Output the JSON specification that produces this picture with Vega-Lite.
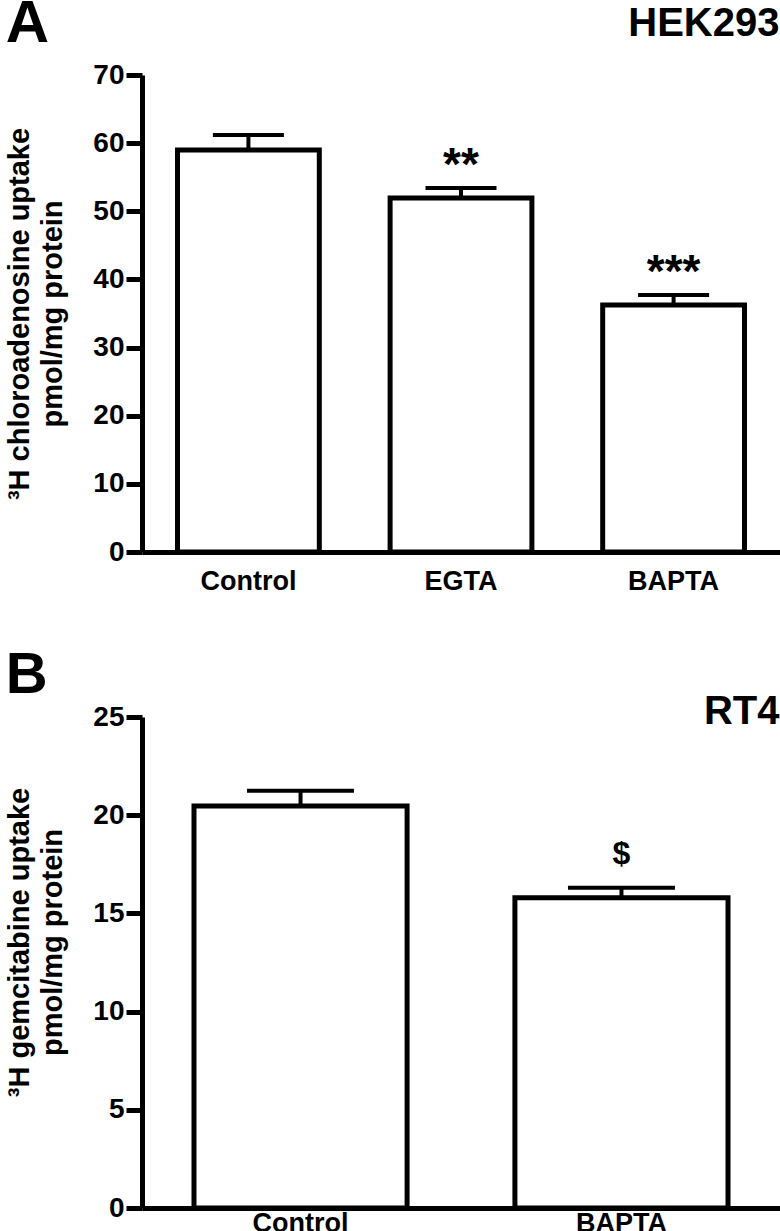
{
  "$schema": "https://vega.github.io/schema/vega-lite/v6.json",
  "padding": {"left": 5, "top": -6, "right": 0, "bottom": 0},
  "background": "white",
  "config": {
    "view": {"stroke": null},
    "font": "Liberation Sans",
    "axis": {"labelFont": "Liberation Sans", "labelFontWeight": "bold", "labelColor": "black", "domainColor": "black", "tickColor": "black", "titleColor": "black", "titleFont": "Liberation Sans", "titleFontWeight": "bold", "grid": false},
    "text": {"font": "Liberation Sans", "fontWeight": "bold", "color": "black"},
    "title": {"font": "Liberation Sans", "fontWeight": "bold", "color": "black"}
  },
  "datasets": {
    "a": [
      {"cat": "Control", "value": 59.0, "upper": 61.2, "label": ""},
      {"cat": "EGTA", "value": 51.95, "upper": 53.4, "label": "**"},
      {"cat": "BAPTA", "value": 36.25, "upper": 37.7, "label": "***"}
    ],
    "b": [
      {"cat": "Control", "value": 20.47, "upper": 21.25, "label": ""},
      {"cat": "BAPTA", "value": 15.8, "upper": 16.3, "label": "$"}
    ]
  },
  "spacing": 165,
  "bounds": "flush",
  "vconcat": [
    {
      "width": 638,
      "height": 477,
      "data": {"name": "a"},
      "title": {"text": "A", "anchor": "start", "frame": "bounds", "fontSize": 60, "offset": -52},
      "resolve": {"axis": {"x": "independent"}},
      "layer": [
        {
          "mark": {"type": "bar", "fill": "white", "stroke": "black", "strokeWidth": 5},
          "encoding": {
            "x": {"field": "cat", "type": "nominal", "sort": ["Control", "EGTA", "BAPTA"],
              "scale": {"paddingInner": 0.333, "paddingOuter": 0.167},
              "axis": {"orient": "bottom", "title": null, "labelAngle": 0, "labelFontSize": 27, "labelPadding": 16, "ticks": false, "domainWidth": 5}},
            "y": {"field": "value", "type": "quantitative", "scale": {"domain": [0, 70], "nice": false},
              "axis": {"values": [0, 10, 20, 30, 40, 50, 60, 70], "title": ["³H chloroadenosine uptake", "pmol/mg protein"], "titleFontSize": 29, "titleLineHeight": 33, "titlePadding": 25, "labelFontSize": 28, "tickSize": 16, "tickWidth": 5, "domainWidth": 5, "labelPadding": 2}}
          }
        },
        {
          "mark": {"type": "rule", "strokeWidth": 4, "color": "black"},
          "encoding": {
            "x": {"field": "cat", "type": "nominal", "sort": ["Control", "EGTA", "BAPTA"], "axis": null},
            "y": {"field": "value", "type": "quantitative"},
            "y2": {"field": "upper"}
          }
        },
        {
          "mark": {"type": "tick", "orient": "horizontal", "size": 71, "thickness": 4, "color": "black", "opacity": 1},
          "encoding": {
            "x": {"field": "cat", "type": "nominal", "sort": ["Control", "EGTA", "BAPTA"], "axis": null},
            "y": {"field": "upper", "type": "quantitative"}
          }
        },
        {
          "transform": [{"filter": "datum.label != ''"}],
          "mark": {"type": "text", "fontSize": 46, "dy": -8, "baseline": "alphabetic"},
          "encoding": {
            "x": {"field": "cat", "type": "nominal", "sort": ["Control", "EGTA", "BAPTA"],
              "axis": {"orient": "top", "title": "HEK293", "labels": false, "ticks": false, "domain": false, "titleFontSize": 40, "titleX": 637, "titleY": -40, "titleAlign": "right", "titleAnchor": null, "titleBaseline": "alphabetic"}},
            "y": {"field": "upper", "type": "quantitative"},
            "text": {"field": "label"}
          }
        }
      ]
    },
    {
      "width": 638,
      "height": 491,
      "data": {"name": "b"},
      "title": {"text": "B", "anchor": "start", "frame": "bounds", "fontSize": 58, "offset": -14},
      "resolve": {"axis": {"x": "independent"}},
      "layer": [
        {
          "mark": {"type": "bar", "fill": "white", "stroke": "black", "strokeWidth": 5},
          "encoding": {
            "x": {"field": "cat", "type": "nominal", "sort": ["Control", "BAPTA"],
              "scale": {"paddingInner": 0.336, "paddingOuter": 0.162},
              "axis": {"orient": "bottom", "title": null, "labelAngle": 0, "labelFontSize": 27, "labelPadding": 2, "ticks": false, "domainWidth": 5}},
            "y": {"field": "value", "type": "quantitative", "scale": {"domain": [0, 25], "nice": false},
              "axis": {"values": [0, 5, 10, 15, 20, 25], "title": ["³H gemcitabine uptake", "pmol/mg protein"], "titleFontSize": 29, "titleLineHeight": 33, "titlePadding": 25, "titleY": 225, "labelFontSize": 28, "tickSize": 16, "tickWidth": 5, "domainWidth": 5, "labelPadding": 2}}
          }
        },
        {
          "mark": {"type": "rule", "strokeWidth": 4, "color": "black"},
          "encoding": {
            "x": {"field": "cat", "type": "nominal", "sort": ["Control", "BAPTA"], "axis": null},
            "y": {"field": "value", "type": "quantitative"},
            "y2": {"field": "upper"}
          }
        },
        {
          "mark": {"type": "tick", "orient": "horizontal", "size": 107, "thickness": 4, "color": "black", "opacity": 1},
          "encoding": {
            "x": {"field": "cat", "type": "nominal", "sort": ["Control", "BAPTA"], "axis": null},
            "y": {"field": "upper", "type": "quantitative"}
          }
        },
        {
          "transform": [{"filter": "datum.label != ''"}],
          "mark": {"type": "text", "fontSize": 32, "dy": -24, "baseline": "alphabetic"},
          "encoding": {
            "x": {"field": "cat", "type": "nominal", "sort": ["Control", "BAPTA"],
              "axis": {"orient": "top", "title": "RT4", "labels": false, "ticks": false, "domain": false, "titleFontSize": 40, "titleX": 637, "titleY": 6, "titleAlign": "right", "titleAnchor": null, "titleBaseline": "alphabetic"}},
            "y": {"field": "upper", "type": "quantitative"},
            "text": {"field": "label"}
          }
        }
      ]
    }
  ]
}
